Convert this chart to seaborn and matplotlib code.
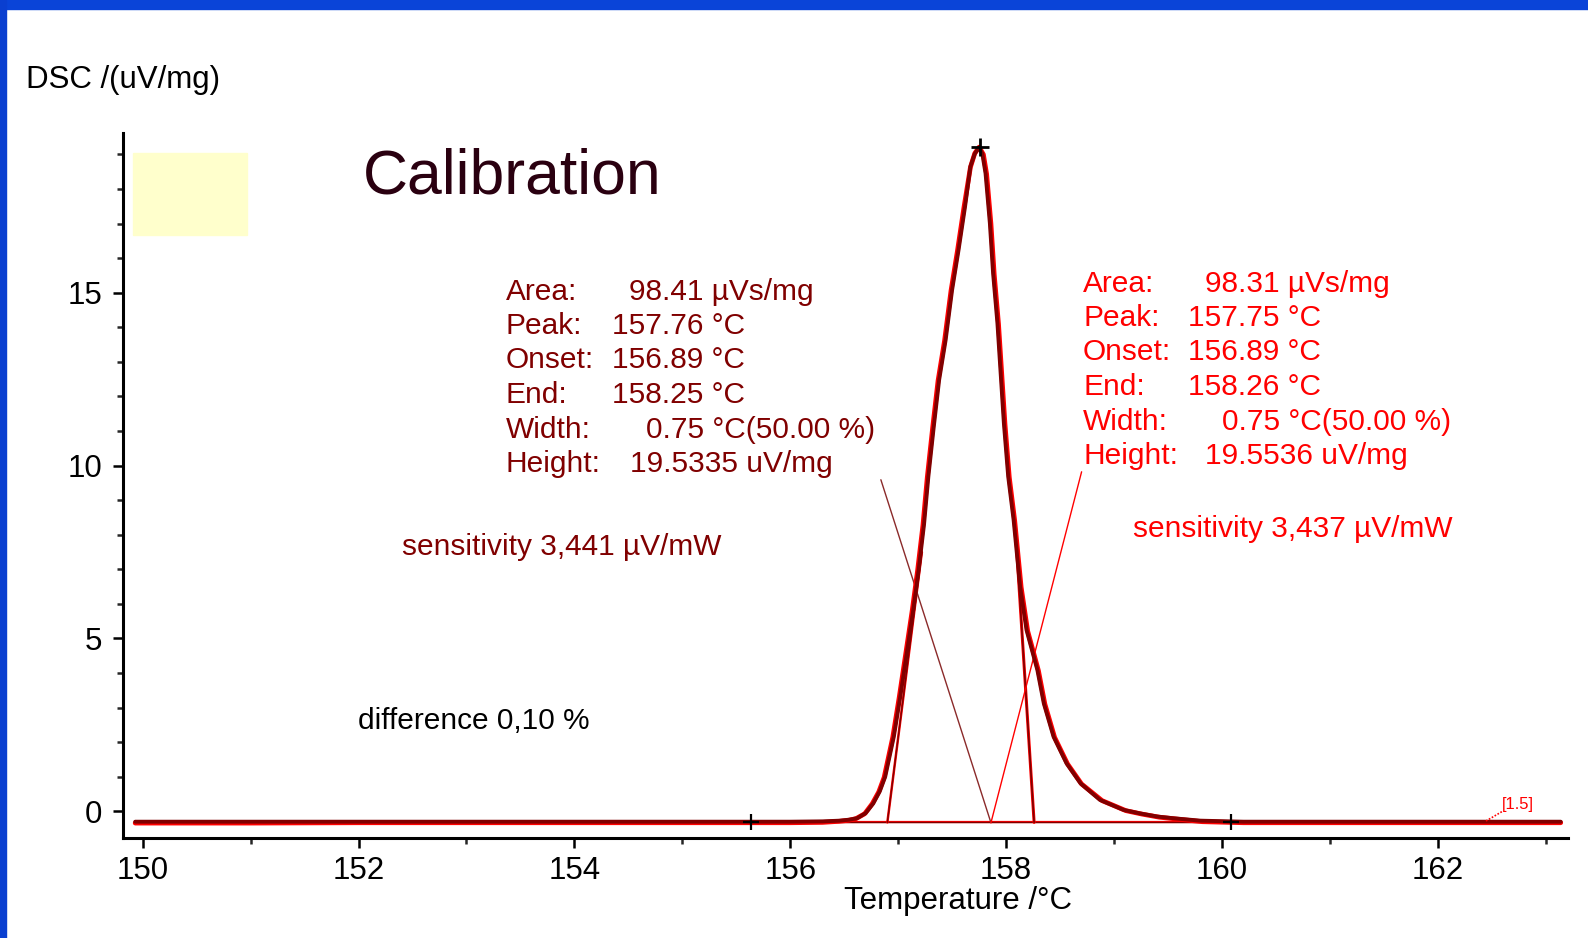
import numpy as np
import pandas as pd
import matplotlib
matplotlib.use("Agg")
import matplotlib.pyplot as plt
import seaborn as sns
from matplotlib.patches import Rectangle
from matplotlib.lines import Line2D

# ---------------- data ----------------
dark_x = [149.93, 151.0, 152.0, 153.0, 154.0, 155.0, 156.0, 156.30, 156.46, 156.55, 156.62,
          156.70, 156.77, 156.83, 156.88, 156.96, 157.02, 157.08, 157.14, 157.19, 157.24,
          157.28, 157.33, 157.38, 157.44, 157.50, 157.56, 157.62, 157.67, 157.71, 157.75,
          157.78, 157.81, 157.85, 157.88, 157.92, 157.95, 157.98, 158.02, 158.07, 158.13,
          158.19, 158.29, 158.35, 158.44, 158.56, 158.69, 158.87, 159.09, 159.24, 159.40,
          159.55, 159.80, 160.20, 161.00, 162.00, 163.14]
dark_y = [-0.30, -0.30, -0.30, -0.30, -0.30, -0.30, -0.30, -0.29, -0.27, -0.24, -0.20,
          -0.05, 0.23, 0.58, 1.00, 2.16, 3.32, 4.57, 5.82, 6.98, 8.30,
          9.68, 11.12, 12.48, 13.63, 15.08, 16.24, 17.49, 18.65, 19.02, 19.20,
          19.02, 18.45, 17.01, 15.56, 14.12, 12.67, 11.22, 9.68, 8.43, 6.50,
          5.24, 4.09, 3.12, 2.16, 1.39, 0.81, 0.33, 0.04, -0.06, -0.15,
          -0.20, -0.27, -0.30, -0.30, -0.30, -0.30]

red_x = [149.93, 151.0, 152.0, 153.0, 154.0, 155.0, 156.0, 156.30, 156.45, 156.54, 156.61,
         156.69, 156.76, 156.82, 156.87, 156.95, 157.01, 157.07, 157.13, 157.18, 157.23,
         157.27, 157.32, 157.37, 157.43, 157.49, 157.55, 157.61, 157.67, 157.71, 157.75,
         157.79, 157.82, 157.86, 157.89, 157.93, 157.96, 157.99, 158.03, 158.08, 158.14,
         158.20, 158.30, 158.36, 158.45, 158.57, 158.70, 158.89, 159.11, 159.26, 159.42,
         159.57, 159.82, 160.20, 161.00, 162.00, 163.14]
red_y = [-0.34, -0.34, -0.33, -0.33, -0.33, -0.33, -0.33, -0.32, -0.29, -0.26, -0.21,
         -0.07, 0.22, 0.56, 0.98, 2.14, 3.30, 4.55, 5.80, 6.96, 8.28,
         9.66, 11.10, 12.46, 13.61, 15.06, 16.22, 17.47, 18.63, 19.03, 19.21,
         19.00, 18.43, 16.99, 15.54, 14.10, 12.65, 11.20, 9.66, 8.41, 6.48,
         5.22, 4.07, 3.10, 2.14, 1.37, 0.79, 0.31, 0.02, -0.08, -0.17,
         -0.22, -0.30, -0.33, -0.33, -0.33, -0.33]

peak_temp = 157.76
peak_val = 19.20
int_limits = [155.64, 160.08]
baseline_val = -0.32
onset_tangent_x = [156.90, 157.22]
onset_tangent_y = [-0.32, 7.5]
end_tangent_x = [158.26, 158.10]
end_tangent_y = [-0.32, 7.5]
pointer_dark_x = [156.84, 157.86]
pointer_dark_y = [9.59, -0.33]
pointer_red_x = [158.70, 157.86]
pointer_red_y = [9.82, -0.33]

left_labels = ["Area:", "Peak:", "Onset:", "End:", "Width:", "Height:"]
left_values = ["98.41 µVs/mg", "157.76 °C", "156.89 °C", "158.25 °C",
               "0.75 °C(50.00 %)", "19.5335 uV/mg"]
right_labels = ["Area:", "Peak:", "Onset:", "End:", "Width:", "Height:"]
right_values = ["98.31 µVs/mg", "157.75 °C", "156.89 °C", "158.26 °C",
                "0.75 °C(50.00 %)", "19.5536 uV/mg"]

x_major = [150, 152, 154, 156, 158, 160, 162]
y_major = [0, 5, 10, 15]

# ---------------- style ----------------
sns.set_theme(style="white")
plt.rcParams["font.family"] = ["Liberation Sans", "DejaVu Sans"]

W, H = 1588, 938
fig = plt.figure(figsize=(W / 100, H / 100), dpi=100)
fig.patch.set_facecolor("white")

def fx(px):
    return px / W

def fy(py):
    return 1 - py / H

# blue frame at top and left
fig.add_artist(Rectangle((0, fy(9)), 1, 9 / H, transform=fig.transFigure,
                         color="#0a44d8", zorder=0))
fig.add_artist(Rectangle((0, 0), 6 / W, 1, transform=fig.transFigure,
                         color="#0a3fd0", zorder=0))

ax = fig.add_axes([fx(123.3), 1 - 838.3 / H, (1568.3 - 123.3) / W, (838.3 - 133.3) / H])
ax.set_facecolor("white")

DARK = "#800000"
RED = "#ff0000"

df_red = pd.DataFrame({"T": red_x, "DSC": red_y})
df_dark = pd.DataFrame({"T": dark_x, "DSC": dark_y})
sns.lineplot(data=df_red, x="T", y="DSC", ax=ax, color=RED, lw=3.4,
             estimator=None, sort=False, zorder=3)
sns.lineplot(data=df_dark, x="T", y="DSC", ax=ax, color=DARK, lw=2.8,
             estimator=None, sort=False, zorder=4)

# integration baseline
ax.plot(int_limits, [baseline_val, baseline_val], color=RED, lw=1.6, zorder=2)
ax.plot(int_limits, [baseline_val + 0.02, baseline_val + 0.02], color=DARK, lw=1.0, zorder=2)

# tangents
ax.plot(onset_tangent_x, onset_tangent_y, color=RED, lw=1.8, zorder=2)
ax.plot(onset_tangent_x, onset_tangent_y, color=DARK, lw=1.0, zorder=2)
ax.plot(end_tangent_x, end_tangent_y, color=RED, lw=2.2, zorder=2)
ax.plot(end_tangent_x, end_tangent_y, color=DARK, lw=1.2, zorder=2)

# pointer lines
ax.plot(pointer_dark_x, pointer_dark_y, color="#8b2a2a", lw=1.0, zorder=2)
ax.plot(pointer_red_x, pointer_red_y, color=RED, lw=1.0, zorder=2)

# markers
ax.plot([peak_temp], [peak_val], marker="+", color="black", ms=13, mew=2.0, zorder=6)
ax.plot(int_limits, [baseline_val, baseline_val], ls="none", marker="+",
        color="black", ms=12, mew=1.6, zorder=6)

# axes
ax.set_xlim(149.82, 163.21)
ax.set_ylim(-0.78, 19.61)
ax.set_xticks(x_major)
ax.set_xticks(np.arange(151, 164, 2), minor=True)
ax.set_yticks(y_major)
ax.set_yticks([v for v in range(1, 20) if v % 5 != 0], minor=True)
ax.set_xticklabels([str(v) for v in x_major])
ax.set_yticklabels([str(v) for v in y_major])
ax.tick_params(axis="both", which="major", direction="out", length=7, width=1.8,
               labelsize=22.5, colors="black", bottom=True, left=True)
ax.tick_params(axis="x", which="major", pad=6)
ax.tick_params(axis="y", which="major", pad=8)
ax.tick_params(axis="both", which="minor", direction="out", length=4.5, width=1.8,
               bottom=True, left=True)
for s in ["top", "right"]:
    ax.spines[s].set_visible(False)
for s in ["left", "bottom"]:
    ax.spines[s].set_color("black")
    ax.spines[s].set_linewidth(2.2)
ax.set_xlabel("")
ax.set_ylabel("")
ax.grid(False)

# axis titles
fig.text(fx(26), fy(80), "DSC /(uV/mg)", fontsize=22.5, color="black",
         ha="left", va="center")
fig.text(fx(958), fy(901), "Temperature /°C", fontsize=22.5, color="black",
         ha="center", va="center")

# yellow box and title
fig.add_artist(Rectangle((fx(133.3), fy(234.7)), (247.3 - 133.3) / W, (234.7 - 153.3) / H,
                         transform=fig.transFigure, color="#ffffcc", zorder=1))
fig.text(fx(363), fy(193), "Calibration", fontsize=45, color="#2a0010",
         ha="left", va="baseline")

# annotation blocks
TXT = 21.5
left_rows = [291.5, 326.0, 360.5, 395.0, 429.5, 464.0]
left_val_x = [629, 612, 612, 612, 646, 630]
for lab, val, py, vx in zip(left_labels, left_values, left_rows, left_val_x):
    fig.text(fx(506), fy(py), lab, fontsize=TXT, color=DARK, ha="left", va="center")
    fig.text(fx(vx), fy(py), val, fontsize=TXT, color=DARK, ha="left", va="center")

right_rows = [283.5, 318.0, 352.5, 387.0, 421.5, 456.0]
right_val_x = [1205, 1188, 1188, 1188, 1222, 1205]
for lab, val, py, vx in zip(right_labels, right_values, right_rows, right_val_x):
    fig.text(fx(1083), fy(py), lab, fontsize=TXT, color=RED, ha="left", va="center")
    fig.text(fx(vx), fy(py), val, fontsize=TXT, color=RED, ha="left", va="center")

fig.text(fx(402), fy(547), "sensitivity 3,441 µV/mW", fontsize=TXT, color=DARK,
         ha="left", va="center")
fig.text(fx(1133), fy(529), "sensitivity 3,437 µV/mW", fontsize=TXT, color=RED,
         ha="left", va="center")
fig.text(fx(357.5), fy(721), "difference 0,10 %", fontsize=TXT, color="black",
         ha="left", va="center")

# small curve tag
fig.add_artist(Line2D([fx(1486), fx(1503)], [fy(821), fy(811)], transform=fig.transFigure,
                      color=RED, lw=1.2, ls=(0, (1, 1))))
fig.text(fx(1502), fy(804), "[1.5]", fontsize=12, color=RED, ha="left", va="center")

fig.savefig("out.png", dpi=100, facecolor="white")
